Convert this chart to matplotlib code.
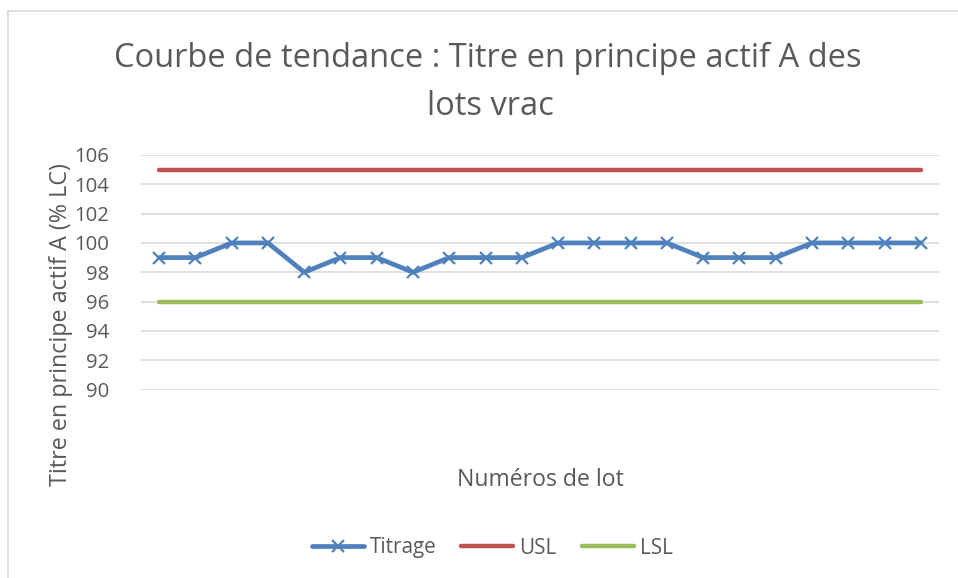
import matplotlib
matplotlib.use('Agg')
from matplotlib import pyplot as plt
from matplotlib.lines import Line2D

# DATA
LOTS = list(range(1, 23))
TITRAGE = [99, 99, 100, 100, 98, 99, 99, 98, 99, 99, 99,
           100, 100, 100, 100, 99, 99, 99, 100, 100, 100, 100]
USL = [105] * len(LOTS)
LSL = [96] * len(LOTS)
YTICKS = list(range(90, 107, 2))

# STYLE
W, H = 958, 578
GREY = '#595959'
plt.rcParams['font.family'] = ['Open Sans', 'DejaVu Sans']

fig = plt.figure(figsize=(W/100, H/100), dpi=100)
ax = fig.add_axes([141/W, 1-389.5/H, (939-141)/W, (389.5-155)/H])
R = fig.canvas.get_renderer()


def size_for(s, target, vertical=False):
    # font size (pt) so that text s is target px long
    t = fig.text(0, 0, s, fontsize=10, rotation=90 if vertical else 0)
    bb = t.get_window_extent(R)
    t.remove()
    return 10 * target / (bb.height if vertical else bb.width)


x = range(len(LOTS))
ax.plot(x, USL, color='#C0504D', lw=3.2, solid_capstyle='round', label='USL', zorder=3)
ax.plot(x, LSL, color='#9BBB59', lw=3.2, solid_capstyle='round', label='LSL', zorder=3)
ax.plot(x, TITRAGE, color='#4F81BD', lw=3.4, marker='x', ms=9, mew=1.6,
        solid_joinstyle='miter', solid_capstyle='round', label='Titrage', zorder=4)

ax.set_xlim(-0.5, len(LOTS)-0.5)
ax.set_ylim(90, 106)
ax.set_yticks(YTICKS)
ax.set_xticks([])
ax.grid(axis='y', color='#D9D9D9', lw=1.2)
ax.set_axisbelow(True)
for s in ax.spines.values():
    s.set_visible(False)
ax.tick_params(axis='y', length=0, pad=23, labelsize=size_for('106', 35), labelcolor=GREY)

# texts
fs_title = size_for('Courbe de tendance : Titre en principe actif A des', 747)
fig.text(488/W, 1-67/H, 'Courbe de tendance : Titre en principe actif A des',
         ha='center', va='baseline', fontsize=fs_title, color=GREY)
fig.text(490/W, 1-115/H, 'lots vrac', ha='center', va='baseline', fontsize=fs_title, color=GREY)
fig.text(61/W, 1-325/H, 'Titre en principe actif A (% LC)', rotation=90,
         ha='center', va='center', fontsize=size_for('Titre en principe actif A (% LC)', 325, True),
         color=GREY)
fig.text(540/W, 1-486/H, 'Numéros de lot', ha='center', va='baseline',
         fontsize=size_for('Numéros de lot', 166), color=GREY)

fs_leg = size_for('Titrage', 67)
em = fs_leg * 100 / 72
h, l = ax.get_legend_handles_labels()
order = [2, 0, 1]
fig.legend([h[i] for i in order], [l[i] for i in order], loc='center',
           bbox_to_anchor=(492/W, 1-548/H), ncol=3, frameon=False,
           handlelength=52/em, handletextpad=6/em, columnspacing=25/em,
           fontsize=fs_leg, labelcolor=GREY)

# chart border
fig.add_artist(Line2D([8/W, 8/W], [0, 1-11/H], color='#D9D9D9', lw=1.2))
fig.add_artist(Line2D([8/W, 1], [1-11/H, 1-11/H], color='#D9D9D9', lw=1.2))

fig.savefig('out.png', dpi=100)
